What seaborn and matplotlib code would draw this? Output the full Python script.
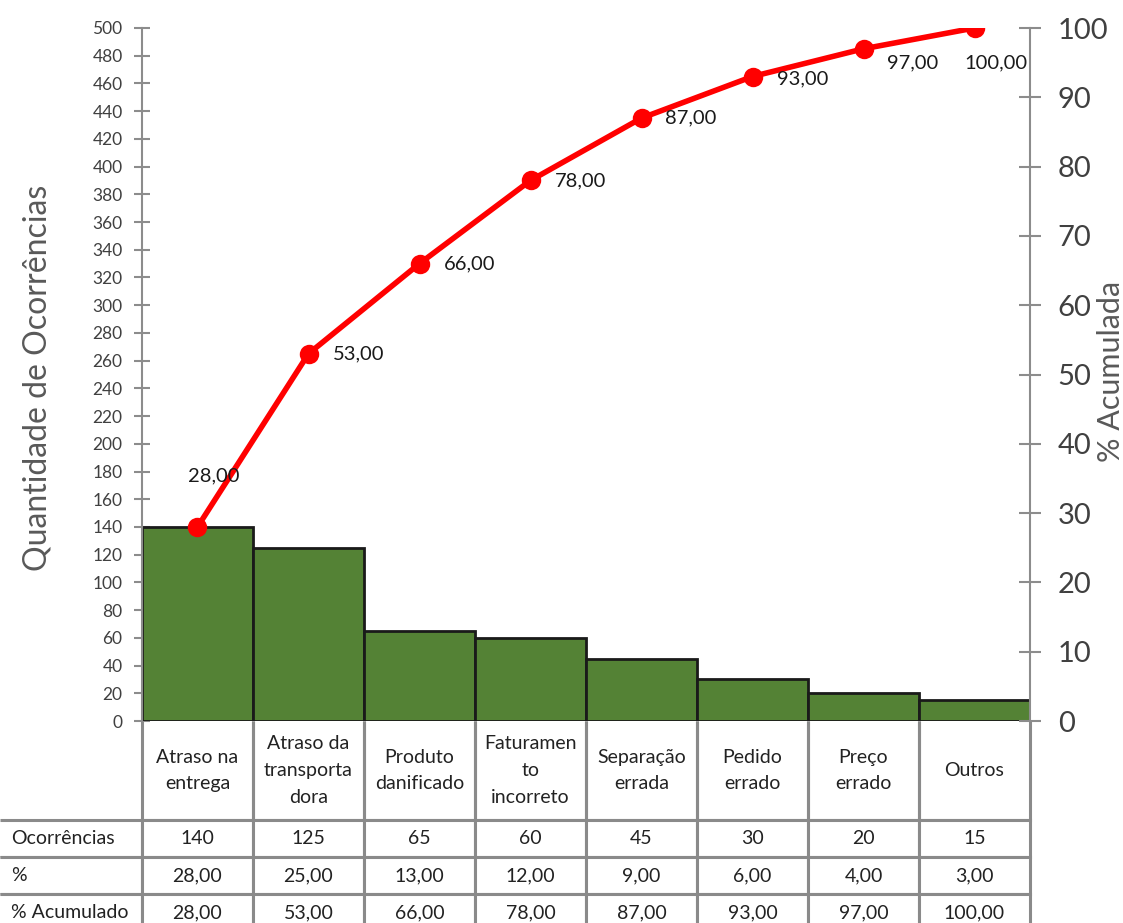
import numpy as np
import matplotlib
matplotlib.use('Agg')
import matplotlib.pyplot as plt
import seaborn as sns

# Dados do gráfico de Pareto
categorias = ['Atraso na\nentrega', 'Atraso da\ntransporta\ndora', 'Produto\ndanificado',
              'Faturamen\nto\nincorreto', 'Separação\nerrada', 'Pedido\nerrado',
              'Preço\nerrado', 'Outros']
ocorrencias = [140, 125, 65, 60, 45, 30, 20, 15]
percentual = [28, 25, 13, 12, 9, 6, 4, 3]
acumulado = [28, 53, 66, 78, 87, 93, 97, 100]
linhas_tabela = ['Ocorrências', '%', '% Acumulado']


def fmt(v):
    return f"{v:.2f}".replace('.', ',')


sns.set_theme(style='white')
plt.rcParams['font.family'] = ['Lato', 'DejaVu Sans']

W, H = 1123, 923
fig = plt.figure(figsize=(W / 100, H / 100), dpi=100)
# eixo em pixels: esquerda 142, direita 1030, topo 28, base 721
ax = fig.add_axes([142 / W, (H - 721) / H, 888 / W, 693 / H])

x = np.arange(len(categorias))
sns.barplot(x=x, y=ocorrencias, color='#548235', saturation=1, width=1.0,
            edgecolor='#1a1a1a', linewidth=2, ax=ax)
ax.set_xlim(-0.5, len(categorias) - 0.5)
ax.set_ylim(0, 500)
ax.set_yticks(range(0, 501, 20))
ax.set_xticks([])
ax.set_xlabel('')
ax.set_ylabel('Quantidade de Ocorrências', fontsize=23, color='#595959')
ax.yaxis.set_label_coords(-104 / 888, 0.495)
ax.yaxis.label.set_va('center')
ax.tick_params(axis='y', direction='inout', length=12, width=1.5, color='#8c8c8c',
               labelsize=12.5, labelcolor='#404040', pad=8, left=True)
for s in ['top', 'right', 'bottom']:
    ax.spines[s].set_visible(False)
ax.spines['left'].set_color('#8c8c8c')
ax.spines['left'].set_linewidth(1.5)

# linha de % acumulado
ax2 = ax.twinx()
sns.lineplot(x=x, y=acumulado, color='#ff0000', linewidth=4, marker='o',
             markersize=14, markeredgewidth=0, ax=ax2)
ax2.set_xlim(-0.5, len(categorias) - 0.5)
ax2.set_ylim(0, 100)
ax2.set_yticks(range(0, 101, 10))
ax2.set_ylabel('% Acumulada', fontsize=22, color='#595959')
ax2.yaxis.set_label_coords(969 / 888, 0.505)
ax2.yaxis.label.set_va('center')
ax2.tick_params(axis='y', direction='inout', length=16, width=1.5, color='#8c8c8c',
                labelsize=21, labelcolor='#404040', pad=12, right=True)
for s in ['top', 'left', 'bottom']:
    ax2.spines[s].set_visible(False)
ax2.spines['right'].set_color('#8c8c8c')
ax2.spines['right'].set_linewidth(1.5)

# rótulos dos pontos (deslocamentos em pixels)
desloc = [(16, 51, 'center'), (24, 0, 'left'), (24, 0, 'left'), (24, 0, 'left'),
          (24, 0, 'left'), (24, -2, 'left'), (24, -14, 'left'), (-10, -35, 'left')]
for xi, v, (dx, dy, ha) in zip(x, acumulado, desloc):
    ax2.annotate(fmt(v), (xi, v), xytext=(dx, dy), textcoords='offset pixels',
                 ha=ha, va='center', fontsize=14.5, color='#1a1a1a')

# tabela de dados abaixo do gráfico
cell_text = [[linhas_tabela[0]] + [str(v) for v in ocorrencias],
             [linhas_tabela[1]] + [fmt(v) for v in percentual],
             [linhas_tabela[2]] + [fmt(v) for v in acumulado]]
tab_h = (99 + 37 * 3) / 693
tabela = ax.table(cellText=cell_text, colLabels=[''] + categorias,
                  cellLoc='center', bbox=[-142 / 888, -tab_h, 1030 / 888, tab_h])
tabela.auto_set_font_size(False)
tabela.set_fontsize(14)
for (r, c), cell in tabela.get_celld().items():
    cell.set_height(99 if r == 0 else 37)
    cell.set_width(142 if c == 0 else 111)
    cell.set_edgecolor('#8a8a8a')
    cell.set_linewidth(2.2)
    cell.get_text().set_color('#222222')
    if r == 0:
        cell.get_text().set_linespacing(1.7)
        cell.visible_edges = '' if c == 0 else 'LRB'
    elif c == 0:
        cell.visible_edges = 'BTR'
        cell.get_text().set_ha('left')
        cell.PAD = 0.08

fig.savefig('out.png', dpi=100)
